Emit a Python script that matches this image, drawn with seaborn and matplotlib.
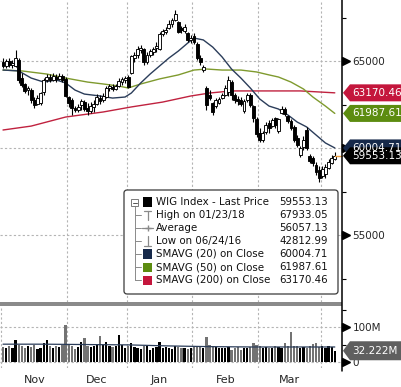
import numpy as np
import matplotlib
matplotlib.use("Agg")
import matplotlib.pyplot as plt
import seaborn as sns
from matplotlib.patches import Polygon, Rectangle, FancyBboxPatch
from matplotlib.lines import Line2D
from matplotlib.transforms import IdentityTransform
from matplotlib.ticker import FixedLocator

# ---------------- data ----------------
months = ["Nov", "Dec", "Jan", "Feb", "Mar", "Apr"]
month_days = [21, 19, 21, 21, 20, 5]

open_ = [64940, 64710, 65000, 64770, 64710, 65060, 64020, 63680, 63330, 63330,
         62760, 62530, 62590, 63220, 63910, 64080, 63910, 64080, 63970, 64140,
         63970, 62930, 62760, 62300, 62180, 62470, 62640, 62300, 62130, 62360,
         62530, 62870, 62760, 62930, 63450, 63510, 63390, 63560, 63790, 63910,
         64080, 64310, 65170, 65350, 65630, 65690, 64940, 65350, 65520, 65750,
         65690, 66550, 66670, 66900, 67130, 67360, 67240, 66900, 66720, 66610,
         66210, 66440, 65980, 65170, 64480, 63450, 63050, 62590, 62410, 62590,
         62870, 63050, 63220, 63790, 63050, 62820, 62760, 62130, 62760, 63050,
         62410, 61670, 60860, 60460, 60920, 61440, 61260, 61720, 60980, 62010,
         62240, 61840, 61550, 61210, 60570, 59600, 60060, 61030, 59540, 59430,
         59020, 58740, 58390, 58510, 58850, 59140, 59370]
close = [64710, 65000, 64770, 64890, 65170, 63910, 63620, 63280, 63450, 62760,
         62470, 62870, 63160, 63910, 64080, 63910, 64140, 63970, 64140, 63910,
         62990, 62590, 62300, 62180, 62360, 62700, 62240, 62130, 62410, 62530,
         62930, 62700, 62990, 63450, 63560, 63390, 63560, 63850, 63970, 64020,
         63510, 65290, 65350, 65690, 65750, 64940, 65350, 65580, 65690, 65860,
         66550, 66720, 66780, 67130, 67360, 67700, 66670, 66780, 66950, 66210,
         66320, 66090, 65170, 64940, 64660, 62470, 62870, 62070, 62760, 62820,
         63050, 63450, 63910, 63050, 62760, 62700, 62530, 62700, 63050, 62470,
         61720, 60800, 60460, 60860, 61320, 61150, 61610, 61320, 61670, 62240,
         61950, 61550, 61150, 60460, 60170, 60000, 60460, 60000, 59250, 59140,
         58620, 58280, 58790, 58910, 59200, 59430, 59553.13]
high = [65170, 65110, 65170, 65060, 65630, 65170, 64310, 63740, 63560, 63450,
        62930, 63050, 63220, 64020, 64250, 64250, 64310, 64250, 64310, 64250,
        64080, 62990, 62870, 62410, 62530, 62820, 62760, 62590, 62640, 62760,
        63100, 63050, 63160, 63560, 63680, 63680, 63680, 64020, 64080, 64140,
        64200, 65350, 65520, 65860, 65920, 65750, 65520, 65690, 65810, 66090,
        66670, 66840, 66950, 67360, 67470, 67933.05, 67300, 67010, 67130, 66670,
        66490, 66610, 66090, 65350, 64770, 63560, 63330, 62640, 62870, 62930,
        63160, 63620, 64140, 63910, 63160, 62990, 62930, 62820, 63160, 63160,
        62470, 61780, 61150, 60980, 61490, 61610, 61720, 61780, 61720, 62410,
        62360, 61900, 61670, 61320, 60750, 60110, 60690, 61210, 59660, 59540,
        59200, 58970, 58970, 59080, 59370, 59600, 59770]
low = [64600, 64600, 64660, 64600, 64660, 63740, 63510, 63160, 63050, 62590,
       62300, 62470, 62470, 63050, 63790, 63790, 63850, 63790, 63910, 63790,
       62930, 62360, 61900, 62070, 62070, 62180, 62130, 61900, 62010, 62070,
       62470, 62530, 62640, 62870, 63280, 63280, 63330, 63510, 63620, 63740,
       63450, 64250, 64940, 65170, 65460, 64770, 64830, 65230, 65350, 65520,
       65630, 66440, 66550, 66840, 66950, 67300, 66610, 66610, 66610, 66090,
       66030, 65980, 65060, 64770, 64370, 62180, 62760, 61900, 62300, 62530,
       62820, 62990, 62990, 62760, 62590, 62470, 62410, 62010, 62640, 62360,
       61490, 60630, 60350, 60350, 60800, 60860, 61210, 61150, 60860, 61950,
       61840, 61440, 61030, 60350, 60060, 59480, 59890, 59890, 59140, 58970,
       58450, 58050, 58280, 58280, 58790, 59080, 59310]
volume_m = [43, 39, 45, 41, 63, 49, 47, 40, 45, 43,
            49, 37, 41, 55, 63, 45, 41, 47, 43, 49,
            106, 50, 45, 38, 43, 56, 68, 47, 43, 45,
            50, 74, 49, 57, 47, 43, 45, 77, 50, 41,
            47, 55, 43, 41, 38, 45, 47, 35, 41, 43,
            56, 39, 43, 41, 38, 45, 43, 40, 41, 37,
            39, 43, 45, 42, 41, 71, 50, 47, 43, 39,
            41, 40, 43, 35, 39, 43, 33, 41, 40, 42,
            55, 50, 45, 41, 43, 39, 41, 45, 43, 41,
            55, 45, 86, 47, 45, 41, 43, 39, 47, 52,
            54, 43, 47, 41, 45, 43, 32.222]

sma20_day = [0, 5, 9, 13, 17, 20, 23, 26, 31, 35, 39, 41, 44, 47, 50, 53, 56,
             59, 61, 64, 67, 70, 73, 76, 79, 82, 85, 88, 91, 94, 97, 100, 103, 106]
sma20_val = [64480, 64430, 64020, 63790, 63910, 63740, 63330, 63100, 62990, 62870,
             62930, 63160, 63740, 64250, 64710, 65170, 65570, 66030, 66320, 66210,
             65800, 65230, 64540, 64020, 63450, 62820, 62410, 62240, 61900, 61490,
             61210, 60750, 60290, 60004.71]
sma50_day = [0, 6, 14, 20, 27, 32, 37, 40, 44, 50, 56, 61, 65, 70, 76, 81, 85,
             88, 92, 96, 99, 103, 106]
sma50_val = [64480, 64430, 64250, 64020, 63790, 63680, 63560, 63450, 63680, 63970,
             64200, 64480, 64540, 64480, 64480, 64370, 64200, 64080, 63790, 63390,
             62930, 62410, 61987.61]
sma200_day = [0, 9, 20, 32, 41, 51, 60, 66, 73, 85, 95, 106]
sma200_val = [61035, 61260, 61780, 62070, 62360, 62640, 62990, 63160, 63280, 63280,
              63280, 63170.46]
volavg_day = [0, 13, 26, 40, 53, 66, 80, 93, 106]
volavg_val = [51, 51, 50, 49, 46, 44, 43, 43, 43]

price_ticks = [55000, 60000, 65000]
price_tick_labels = ["55000", "", "65000"]
price_minor = [52500, 57500, 62500, 67500]
vol_ticks = [0, 100]
vol_tick_labels = ["0", "100M"]
vol_minor = [50, 150]

legend_labels = ["WIG Index - Last Price", "High on 01/23/18", "Average",
                 "Low on 06/24/16", "SMAVG (20) on Close", "SMAVG (50) on Close",
                 "SMAVG (200) on Close"]
legend_values = ["59553.13", "67933.05", "56057.13", "42812.99",
                 "60004.71", "61987.61", "63170.46"]

NAVY = "#2b3d5a"
OLIVE = "#7f9a2e"
RED = "#c0223f"
TAG_RED = "#c4163c"
TAG_GREEN = "#5c8c10"
TAG_NAVY = "#16294a"

# ---------------- figure ----------------
sns.set_style("white")
plt.rcParams['font.family'] = ['DejaVu Sans']

W, H = 401, 387
fig = plt.figure(figsize=(W / 100, H / 100), dpi=100)
fig.patch.set_facecolor("white")


def fx(px):
    return px / W


def fy(py):
    return 1 - py / H


AX_R = 342
ax = fig.add_axes([0, fy(302), fx(AX_R), 302 / H])
axv = fig.add_axes([0, fy(368), fx(AX_R), (368 - 306) / H])

o = np.array(open_, float)
c = np.array(close, float)
h = np.array(high, float)
l = np.array(low, float)
days = np.arange(len(c))
up = c >= o

cum = np.cumsum([0] + month_days)
boundaries = cum[:-1] - 0.5
bounds_inner = cum[1:-1] - 0.5
centers = [(cum[k] + cum[k + 1] - 1) / 2 for k in range(5)]

XMIN, XMAX = -0.96, 108.3

# candles
ax.vlines(days, l, h, color="black", lw=0.8, zorder=3)
body_b = np.minimum(o, c)
body_h = np.maximum(np.abs(c - o), 25)
ax.bar(days, body_h, bottom=body_b, width=0.92,
       color=np.where(up, "white", "black"), edgecolor="black",
       linewidth=0.65, zorder=4)

# moving averages
sns.lineplot(x=sma200_day, y=sma200_val, ax=ax, color=RED, lw=1.0, zorder=2, legend=False)
sns.lineplot(x=sma50_day, y=sma50_val, ax=ax, color=OLIVE, lw=1.0, zorder=2, legend=False)
sns.lineplot(x=sma20_day, y=sma20_val, ax=ax, color=NAVY, lw=1.0, zorder=2, legend=False)
ax.plot([days[-1], XMAX], [c[-1], c[-1]], color="#f0a040", lw=1.0, zorder=5, clip_on=False)

ax.set_xlim(XMIN, XMAX)
ax.set_ylim(51150, 68506)
ax.set_xlabel("")
ax.set_ylabel("")
ax.set_xticks(bounds_inner)
ax.set_yticks(price_ticks)
ax.set_yticklabels(price_tick_labels)
ax.yaxis.set_minor_locator(FixedLocator(price_minor))
ax.grid(True, which="major", color="#b4b4b4", ls=(0, (2, 2)), lw=0.8)
ax.tick_params(axis="x", length=0, labelbottom=False)
ax.yaxis.tick_right()
ax.tick_params(axis="y", which="major", length=0, pad=7.5, labelsize=7.5,
               labelright=True, labelleft=False)
ax.tick_params(axis="y", which="minor", length=3, width=0.8, direction="out", color="black")
for s in ax.spines.values():
    s.set_visible(False)
ax.plot([1 + 4 / AX_R] * len(price_ticks), price_ticks, transform=ax.get_yaxis_transform(),
        marker=">", ms=5.5, color="black", ls="none", clip_on=False)

# volume
axv.bar(days, volume_m, width=0.72, color=np.where(up, "black", "#737373"),
        linewidth=0, zorder=3)
sns.lineplot(x=volavg_day, y=volavg_val, ax=axv, color=NAVY, lw=0.9, zorder=4, legend=False)
axv.set_xlim(XMIN, XMAX)
axv.set_ylim(-17, 160)
axv.set_xlabel("")
axv.set_ylabel("")
axv.set_yticks(vol_ticks)
axv.set_yticklabels(vol_tick_labels)
axv.yaxis.set_minor_locator(FixedLocator(vol_minor))
axv.yaxis.tick_right()
axv.tick_params(axis="y", which="major", length=0, pad=7.5, labelsize=7.5,
                labelright=True, labelleft=False)
axv.tick_params(axis="y", which="minor", length=3, width=0.8, direction="out", color="black")
axv.set_xticks(boundaries)
axv.set_xticklabels([""] * len(boundaries))
axv.set_xticks(centers, minor=True)
axv.set_xticklabels(months[:5], minor=True)
axv.tick_params(axis="x", which="major", length=5, width=0.8, direction="out", color="black")
axv.tick_params(axis="x", which="minor", length=0, pad=5, labelsize=8)
axv.grid(True, which="major", color="#b4b4b4", ls=(0, (2, 2)), lw=0.8)
for s in axv.spines.values():
    s.set_visible(False)
axv.plot([1 + 4 / AX_R] * len(vol_ticks), vol_ticks, transform=axv.get_yaxis_transform(),
         marker=">", ms=5.5, color="black", ls="none", clip_on=False)

# separator and right axis line
fig.add_artist(Rectangle((0, fy(306)), fx(AX_R), 4 / H, transform=fig.transFigure,
                         facecolor="#8a8a8a", edgecolor="none"))
fig.add_artist(Line2D([fx(AX_R), fx(AX_R)], [fy(0), fy(371)], transform=fig.transFigure,
                      color="black", lw=1.1))


# value tags on the right
def tag(axis, value, text, color, hpx=17):
    yd = axis.transData.transform((0, value))[1]
    x0 = AX_R + 1
    pts = [(x0, yd), (x0 + 7, yd + hpx / 2), (W + 5, yd + hpx / 2),
           (W + 5, yd - hpx / 2), (x0 + 7, yd - hpx / 2)]
    fig.add_artist(Polygon(pts, closed=True, transform=IdentityTransform(),
                           facecolor=color, edgecolor="none", zorder=5))
    fig.text(x0 + 9, yd, text, transform=IdentityTransform(), color="white",
             fontsize=7.5, va="center", ha="left", zorder=6)


tag(ax, 63170.46, "63170.46", TAG_RED)
tag(ax, 61987.61, "61987.61", TAG_GREEN)
tag(ax, 60004.71, "60004.71", TAG_NAVY)
tag(ax, 59553.13, "59553.13", "black")
tag(axv, 32.222, "32.222M", "#5f5f5f", hpx=19)

# legend (drawn in figure coordinates)
fig.add_artist(FancyBboxPatch((fx(124), fy(294)), fx(338) - fx(124), fy(190) - fy(294),
                              boxstyle="round,pad=0,rounding_size=0.008",
                              transform=fig.transFigure, facecolor="white",
                              edgecolor="#3a3a3a", lw=0.9, zorder=7))


def fline(xs, ys, **kw):
    fig.add_artist(Line2D([fx(x) for x in xs], [fy(y) for y in ys],
                          transform=fig.transFigure, zorder=8, **kw))


def frect(x0, y0, x1, y1, **kw):
    fig.add_artist(Rectangle((fx(x0), fy(y1)), fx(x1) - fx(x0), fy(y0) - fy(y1),
                             transform=fig.transFigure, zorder=8, **kw))


rows_y = [202, 215, 228, 241, 254, 267, 280]
for lab, val, yy in zip(legend_labels, legend_values, rows_y):
    fig.text(fx(156), fy(yy), lab, fontsize=7.4, va="center", ha="left",
             color="#111111", zorder=9)
    fig.text(fx(328), fy(yy), val, fontsize=7.4, va="center", ha="right",
             color="#111111", zorder=9)

# tree
fline([134.5, 134.5], [206, rows_y[-1]], color="#8a8a8a", lw=0.7)
for yy in rows_y[1:]:
    fline([134.5, 141], [yy, yy], color="#8a8a8a", lw=0.7)
frect(131, 199, 138, 206, facecolor="white", edgecolor="#7a7a7a", lw=0.7)
fline([132.5, 136.5], [202.5, 202.5], color="#555555", lw=0.7)
# icons
frect(143, 197.5, 152, 206.5, facecolor="black", edgecolor="none")
fline([144, 151], [210.5, 210.5], color="#8a8a8a", lw=0.9)
fline([147.5, 147.5], [210.5, 220], color="#8a8a8a", lw=0.9)
fline([142, 153], [228, 228], color="#8a8a8a", lw=0.9)
fline([147.5], [228], color="#8a8a8a", marker="+", ms=4, lw=0)
fline([147.5, 147.5], [236, 245.5], color="#8a8a8a", lw=0.9)
fline([144, 151], [245.5, 245.5], color="#8a8a8a", lw=0.9)
for yy, col in zip(rows_y[4:], [TAG_NAVY, TAG_GREEN, TAG_RED]):
    frect(143, yy - 4.5, 152, yy + 4.5, facecolor=col, edgecolor="none")

fig.savefig("out.png", dpi=100, facecolor="white")
